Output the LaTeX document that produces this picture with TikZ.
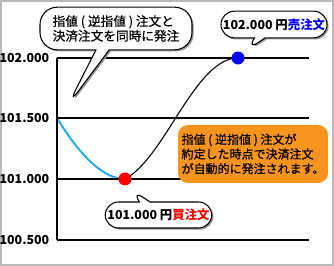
\documentclass[tikz,border=0pt]{standalone}
\usepackage{fontspec}
\setmainfont{Noto Sans CJK JP}[UprightFeatures={FakeBold=0.6}]
\usetikzlibrary{shapes.callouts,shadows,backgrounds}

\definecolor{noteorange}{HTML}{F7941D}
\definecolor{pathblue}{HTML}{29ABE2}

\tikzset{
  bubble/.style={draw, line width=0.8pt, fill=white, rectangle callout, inner sep=0pt,
    drop shadow={shadow xshift=1.2pt, shadow yshift=-1.2pt, fill=gray!80, opacity=1}},
  dot/.style={circle, inner sep=0pt, minimum size=9.75pt},
  level/.style={line width=1pt},
  price/.style={anchor=east, font=\bfseries\fontsize{9.3}{10}\selectfont}
}

\begin{document}
\begin{tikzpicture}[x=0.75pt, y=-0.75pt, font=\fontsize{9.5}{11}\selectfont]
  \useasboundingbox (0,0) rectangle (334,266);
  \draw[gray!55, line width=1.5pt] (1,1) rectangle (333,265);

  % price grid
  \foreach \y/\p [count=\i] in {58/102.000, 118/101.500, 179/101.000, 240/100.500} {
    \draw[level] (57,\y) -- (309,\y);
    \node[price] (lv\i) at (54,\y) {\p};
  }
  \draw[level] (57,58) -- (57,240);

  \coordinate (start) at (57,118);
  \node[dot, fill=red] (buy) at (125,179) {};
  \node[dot, fill=blue] (sell) at (238,58) {};

  \begin{scope}[on background layer]
    \draw[pathblue, line width=1.5pt] (start) .. controls (82,159) and (105,179) .. (buy.center);
    \draw[line width=0.8pt] (buy.center) .. controls (165,158) and (195,58) .. (sell.center);
  \end{scope}

  % callouts
  \node[bubble, rounded corners=13pt, minimum width=114pt, minimum height=32pt,
    callout absolute pointer={(68,105)}, callout pointer width=10pt, align=left]
    (both) at (116,28.5) {指値 ( 逆指値 ) 注文と\\決済注文を同時に発注};
  \node[bubble, rounded corners=10pt, minimum width=79.5pt, minimum height=20pt,
    callout absolute pointer={(247,50)}, callout pointer width=8pt]
    (sellnote) at (274,24.5) {\fontsize{9.3}{10}\selectfont\bfseries 102.000 円\textcolor{blue}{売注文}};
  \node[bubble, rounded corners=10pt, minimum width=80pt, minimum height=19.5pt,
    callout absolute pointer={(132,190)}, callout pointer width=8pt]
    (buynote) at (158.5,215) {\fontsize{9.3}{10}\selectfont\bfseries 101.000 円\textcolor{red}{買注文}};

  \node[fill=noteorange, rounded corners=7.5pt, minimum width=112.5pt, minimum height=43.5pt,
    align=left, inner sep=2pt, font=\fontsize{9}{11}\selectfont] (info) at (253,154)
    {指値 ( 逆指値 ) 注文が\\約定した時点で決済注文\\が自動的に発注されます。};
\end{tikzpicture}
\end{document}
